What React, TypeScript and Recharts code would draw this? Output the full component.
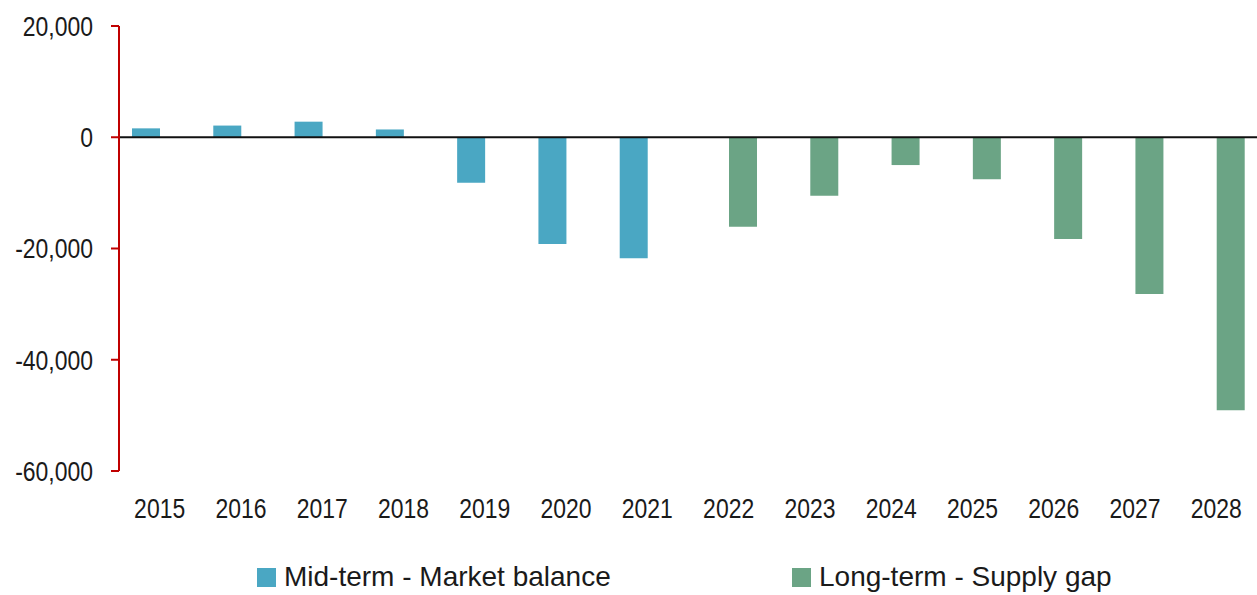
import { Bar, BarChart, XAxis, YAxis, Legend, ReferenceLine } from "recharts";

const years = ["2015", "2016", "2017", "2018", "2019", "2020", "2021", "2022", "2023", "2024", "2025", "2026", "2027", "2028"];
const midTerm = [1600, 2100, 2800, 1400, -8200, -19200, -21750, null, null, null, null, null, null, null];
const longTerm = [null, null, null, null, null, null, null, -16100, -10500, -5000, -7550, -18300, -28200, -49100];
const yTicks = [-60000, -40000, -20000, 0, 20000];

const midColor = "#4aa7c3";
const longColor = "#6ba485";
const axisRed = "#c00000";

const chartData = years.map((year, i) => ({
    year,
    mid: midTerm[i],
    long: longTerm[i],
}));

const legendItems = [
    { label: "Mid-term - Market balance", color: midColor, left: 257 },
    { label: "Long-term - Supply gap", color: longColor, left: 792 },
];

const ChartLegend = () => (
    <div style={{ position: "relative", width: 1257, height: 50 }}>
        {legendItems.map((item) => (
            <div key={item.label}>
                <div style={{ position: "absolute", left: item.left, top: 23, width: 19, height: 19, background: item.color }} />
                <div
                    style={{
                        position: "absolute",
                        left: item.left + 27,
                        top: 17,
                        fontFamily: "'Liberation Sans', Arial, sans-serif",
                        fontSize: 28,
                        lineHeight: "30px",
                        color: "#1a1a1a",
                        whiteSpace: "nowrap",
                    }}
                >
                    {item.label}
                </div>
            </div>
        ))}
    </div>
);

// the source uses a narrow font; squeeze Liberation Sans horizontally to get the same look
const NarrowTick = ({ x, y, payload, anchor, dy, format }: any) => (
    <text
        transform={`translate(${x},${y}) scale(0.82,1)`}
        textAnchor={anchor}
        dy={dy}
        fontFamily="'Liberation Sans', Arial, sans-serif"
        fontSize={28}
        fill="#1a1a1a"
    >
        {format ? format(payload.value) : payload.value}
    </text>
);

export default function App() {
    return (
        <div style={{ position: "absolute", left: 0, top: 0, width: 1257, height: 595, background: "#fff" }}>
            <BarChart width={1257} height={595} data={chartData} margin={{ top: 26, right: 0, left: 0, bottom: 0 }} barGap={0}>
                <XAxis
                    dataKey="year"
                    interval={0}
                    axisLine={false}
                    tickLine={false}
                    tickSize={0}
                    tickMargin={27}
                    height={74}
                    tick={<NarrowTick anchor="middle" dy="0.71em" />}
                />
                <YAxis
                    width={119}
                    domain={[-60000, 20000]}
                    ticks={yTicks}
                    interval={0}
                    axisLine={{ stroke: axisRed, strokeWidth: 2 }}
                    tickLine={{ stroke: axisRed, strokeWidth: 2 }}
                    tickSize={8}
                    tickMargin={18}
                    tick={<NarrowTick anchor="end" dy="0.355em" format={(v: number) => v.toLocaleString("en-US")} />}
                />
                <Legend verticalAlign="bottom" wrapperStyle={{ left: 0, width: 1257 }} content={() => <ChartLegend />} />
                <Bar dataKey="mid" name="Mid-term - Market balance" fill={midColor} barSize={28} isAnimationActive={false} />
                <Bar dataKey="long" name="Long-term - Supply gap" fill={longColor} barSize={28} isAnimationActive={false} />
                <ReferenceLine y={0} stroke="#111" strokeWidth={2} />
            </BarChart>
        </div>
    );
}
